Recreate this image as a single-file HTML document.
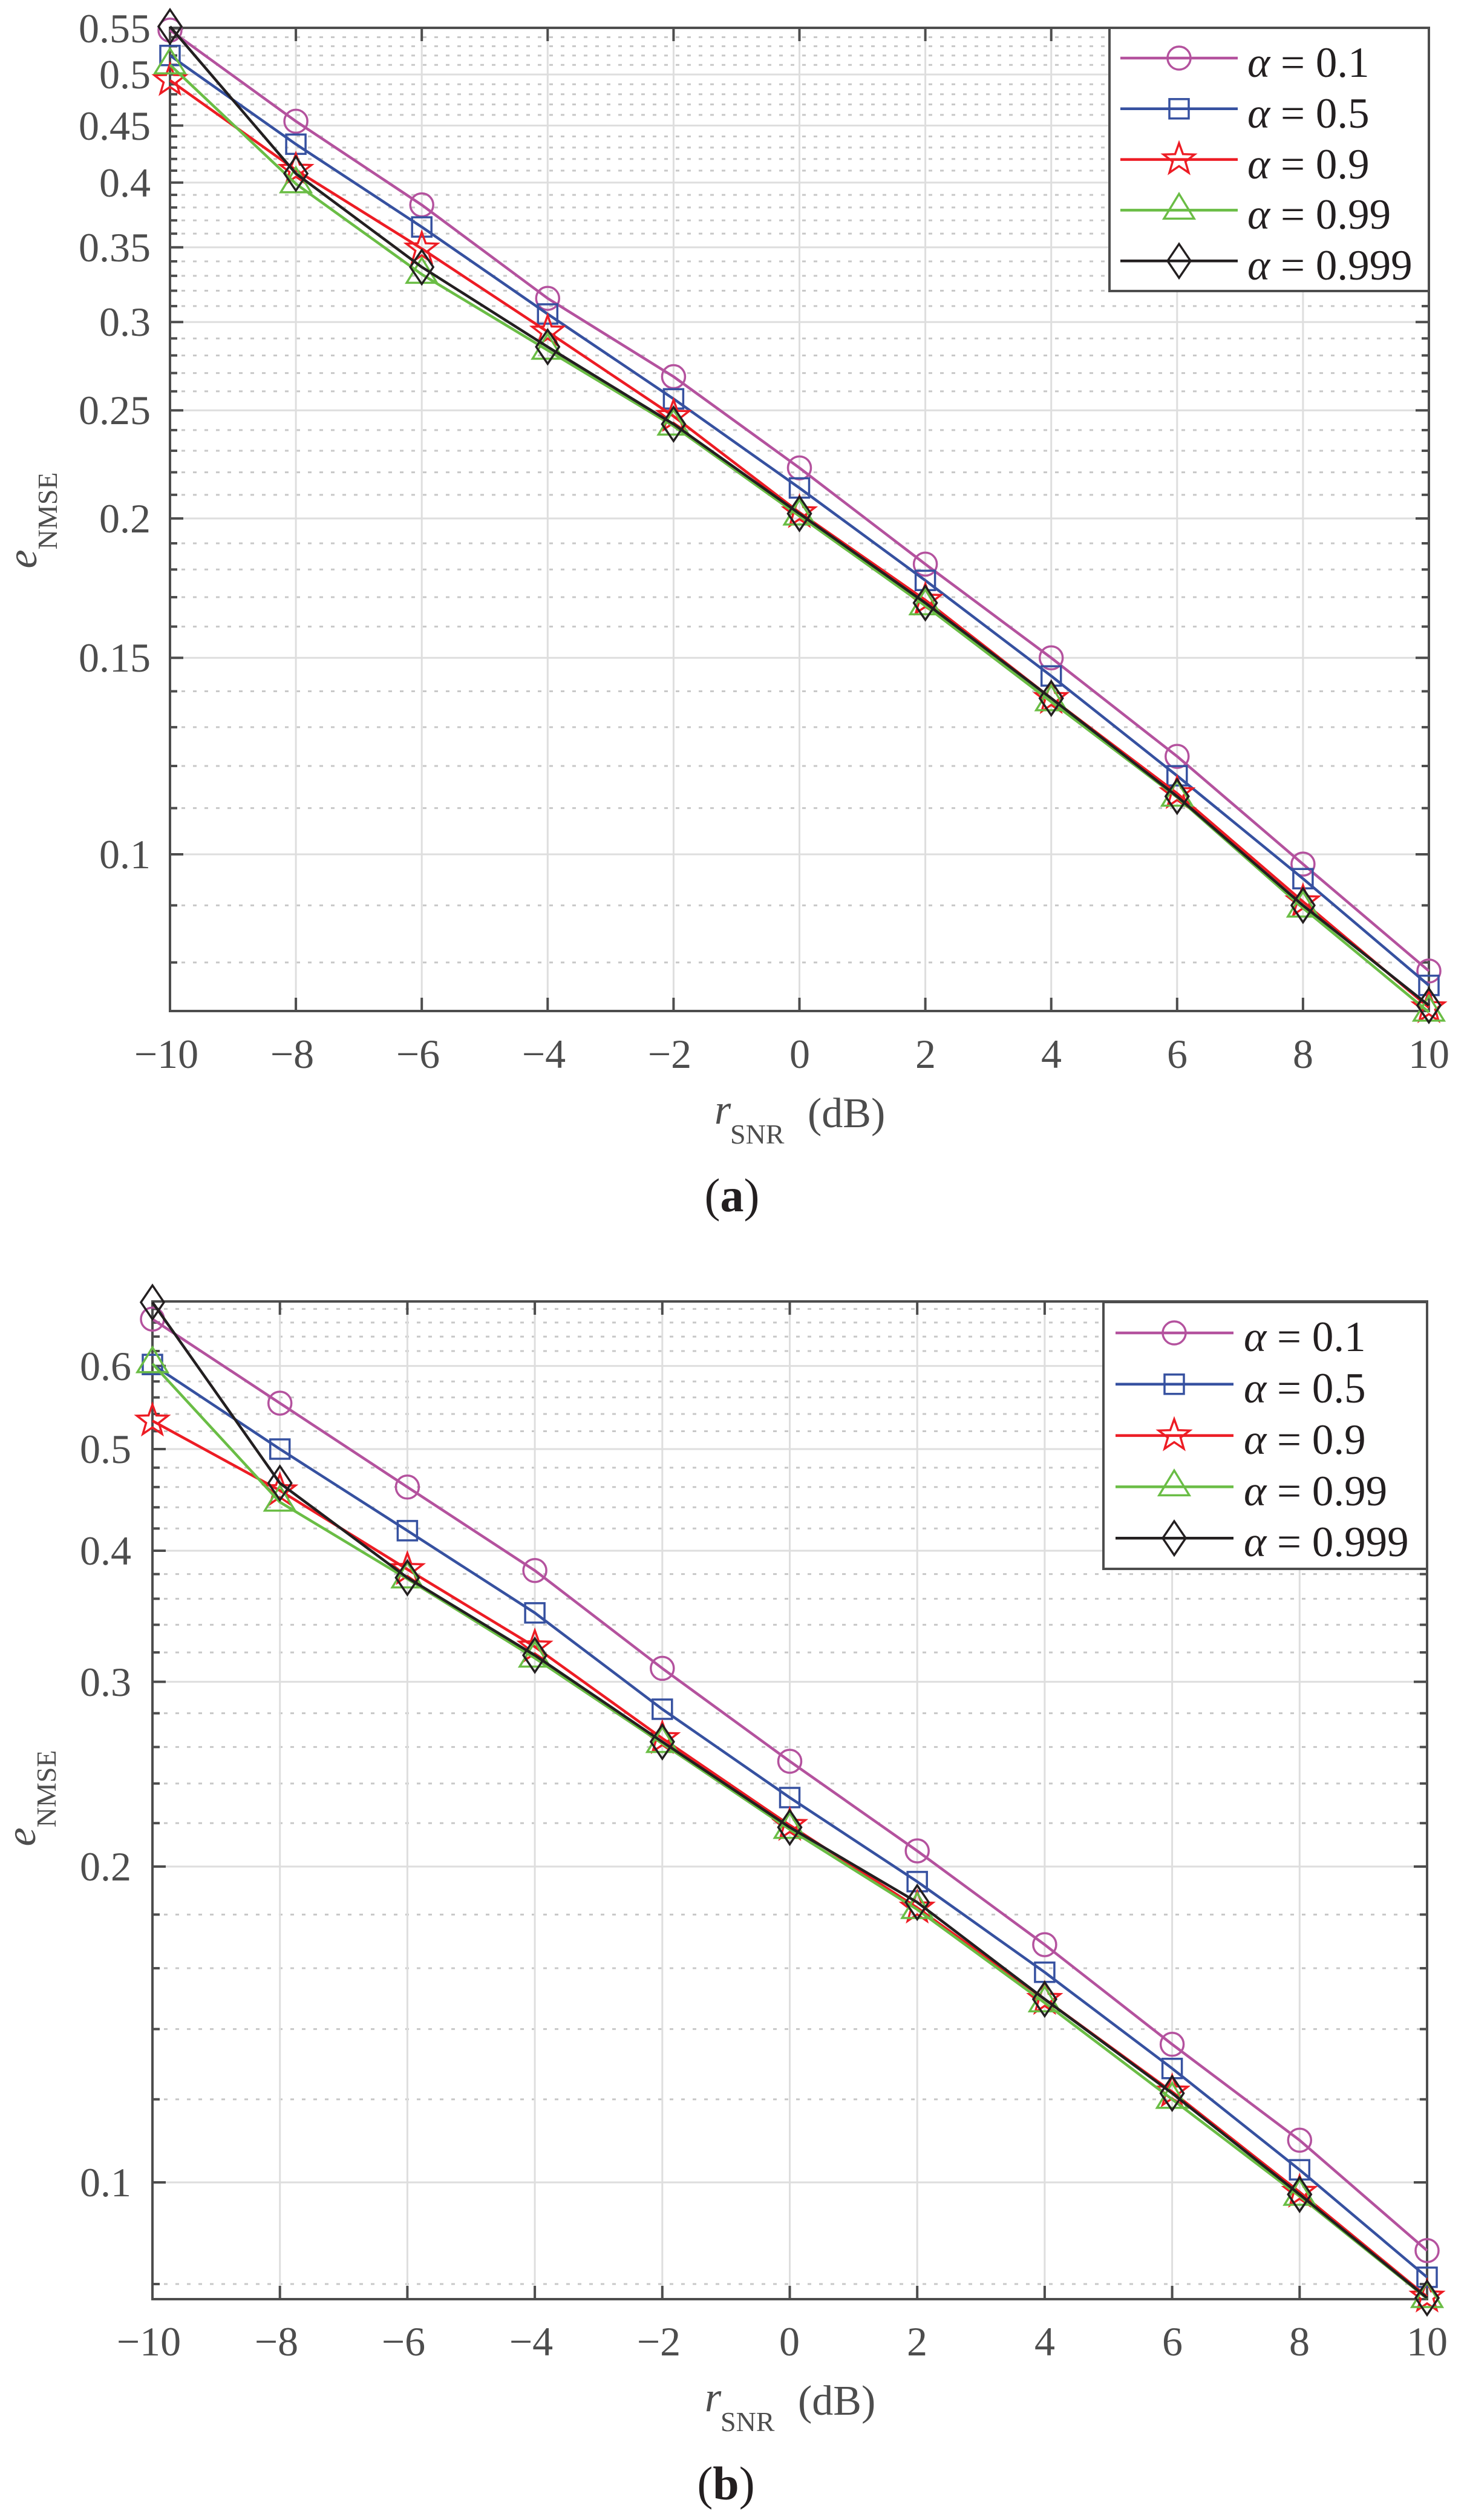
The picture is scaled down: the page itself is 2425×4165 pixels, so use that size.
<!DOCTYPE html>
<html><head><meta charset="utf-8"><style>
html,body{margin:0;padding:0;background:#fff;}
svg{display:block;}
text{font-family:"Liberation Serif",serif;}
.tk{font-size:68px;fill:#4d4d4d;}
.lg{font-size:71px;fill:#231f20;}
</style></head><body>
<svg id="s" xmlns="http://www.w3.org/2000/svg" width="2425" height="4165" viewBox="0 0 2425 4165">
<rect width="2425" height="4165" fill="#fff"/>
<g id="ga"></g>
<g id="gb"></g>
<!-- Plot (a) tick labels -->
<g class="tk" text-anchor="end">
<text x="249" y="1435">0.1</text>
<text x="249" y="1110">0.15</text>
<text x="249" y="880">0.2</text>
<text x="249" y="701">0.25</text>
<text x="249" y="555">0.3</text>
<text x="249" y="432">0.35</text>
<text x="249" y="325">0.4</text>
<text x="249" y="231">0.45</text>
<text x="249" y="146">0.5</text>
<text x="249" y="70">0.55</text>
</g>
<g class="tk" text-anchor="middle">
<text x="275" y="1765">−10</text>
<text x="483" y="1765">−8</text>
<text x="691" y="1765">−6</text>
<text x="899" y="1765">−4</text>
<text x="1107" y="1765">−2</text>
<text x="1322" y="1765">0</text>
<text x="1530" y="1765">2</text>
<text x="1738" y="1765">4</text>
<text x="1946" y="1765">6</text>
<text x="2154" y="1765">8</text>
<text x="2362" y="1765">10</text>
</g>
<text x="1181" y="1857" style="font-size:70px;fill:#4d4d4d;font-style:italic">r</text>
<text x="1207" y="1890" style="font-size:46px;fill:#4d4d4d">SNR</text>
<text x="1335" y="1863" style="font-size:70px;fill:#4d4d4d">(dB)</text>
<text x="1210" y="2002" text-anchor="middle" style="font-size:78px;fill:#231f20">(<tspan font-weight="bold">a</tspan>)</text>
<text transform="translate(60,860) rotate(-90)" text-anchor="middle" style="font-size:70px;fill:#4d4d4d"><tspan font-style="italic">e</tspan><tspan dy="34" style="font-size:46px">NMSE</tspan></text>

<!-- Plot (b) tick labels -->
<g class="tk" text-anchor="end">
<text x="217" y="3630">0.1</text>
<text x="217" y="3108">0.2</text>
<text x="217" y="2803">0.3</text>
<text x="217" y="2586">0.4</text>
<text x="217" y="2418">0.5</text>
<text x="217" y="2281">0.6</text>
</g>
<g class="tk" text-anchor="middle">
<text x="246" y="3893">−10</text>
<text x="457" y="3893">−8</text>
<text x="667" y="3893">−6</text>
<text x="878" y="3893">−4</text>
<text x="1089" y="3893">−2</text>
<text x="1305" y="3893">0</text>
<text x="1516" y="3893">2</text>
<text x="1727" y="3893">4</text>
<text x="1938" y="3893">6</text>
<text x="2148" y="3893">8</text>
<text x="2359" y="3893">10</text>
</g>
<text x="1165" y="3985" style="font-size:70px;fill:#4d4d4d;font-style:italic">r</text>
<text x="1191" y="4018" style="font-size:46px;fill:#4d4d4d">SNR</text>
<text x="1319" y="3991" style="font-size:70px;fill:#4d4d4d">(dB)</text>
<text x="1200" y="4131" text-anchor="middle" style="font-size:78px;fill:#231f20">(<tspan font-weight="bold">b</tspan>)</text>
<text transform="translate(58,2972) rotate(-90)" text-anchor="middle" style="font-size:70px;fill:#4d4d4d"><tspan font-style="italic">e</tspan><tspan dy="34" style="font-size:46px">NMSE</tspan></text>

<!-- legend (a) -->
<g id="la"></g>
<g class="lg">
<text x="2062" y="127"><tspan font-style="italic">α</tspan> = 0.1</text>
<text x="2062" y="211"><tspan font-style="italic">α</tspan> = 0.5</text>
<text x="2062" y="295"><tspan font-style="italic">α</tspan> = 0.9</text>
<text x="2062" y="378"><tspan font-style="italic">α</tspan> = 0.99</text>
<text x="2062" y="462"><tspan font-style="italic">α</tspan> = 0.999</text>
</g>
<!-- legend (b) -->
<g id="lb"></g>
<g class="lg">
<text x="2056" y="2233"><tspan font-style="italic">α</tspan> = 0.1</text>
<text x="2056" y="2318"><tspan font-style="italic">α</tspan> = 0.5</text>
<text x="2056" y="2403"><tspan font-style="italic">α</tspan> = 0.9</text>
<text x="2056" y="2488"><tspan font-style="italic">α</tspan> = 0.99</text>
<text x="2056" y="2572"><tspan font-style="italic">α</tspan> = 0.999</text>
</g>
</svg>
<script>
(function(){
var NS="http://www.w3.org/2000/svg";
function el(p,t,a){var e=document.createElementNS(NS,t);for(var k in a)e.setAttribute(k,a[k]);p.appendChild(e);return e;}
var COL=["#b4529e","#3651a0","#ed1c24","#6abd45","#231f20"];
function marker(g,i,x,y){
  var c=COL[i],sw=3.5;
  if(i==0) el(g,"circle",{cx:x,cy:y,r:19,fill:"none",stroke:c,"stroke-width":sw});
  else if(i==1) el(g,"rect",{x:x-16,y:y-16,width:32,height:32,fill:"none",stroke:c,"stroke-width":sw});
  else if(i==2){var p=[];for(var k=0;k<10;k++){var r=k%2?11:27,a=-Math.PI/2+k*Math.PI/5;p.push((x+r*Math.cos(a)).toFixed(1)+","+(y+r*Math.sin(a)).toFixed(1));}
    el(g,"polygon",{points:p.join(" "),fill:"none",stroke:c,"stroke-width":sw});}
  else if(i==3) el(g,"polygon",{points:(x)+","+(y-27)+" "+(x+25)+","+(y+14)+" "+(x-25)+","+(y+14),fill:"none",stroke:c,"stroke-width":sw});
  else el(g,"polygon",{points:x+","+(y-28)+" "+(x+19)+","+y+" "+x+","+(y+28)+" "+(x-19)+","+y,fill:"none",stroke:c,"stroke-width":sw});
}
function plot(g,o){
  var Y=function(v){return o.y0-o.k*Math.log10(v/0.1);};
  var X=function(v){return o.L+o.dx*(v+10);};
  // minor grid
  o.minor.forEach(function(v){var y=Y(v);
    el(g,"line",{x1:o.L,x2:o.R,y1:y,y2:y,stroke:"#c8c8c8","stroke-width":3,"stroke-dasharray":"6 13"});});
  o.major.forEach(function(v){var y=Y(v);
    el(g,"line",{x1:o.L,x2:o.R,y1:y,y2:y,stroke:"#dedede","stroke-width":3});});
  for(var v=-8;v<=8;v+=2){var x=X(v);el(g,"line",{x1:x,x2:x,y1:o.T,y2:o.B,stroke:"#dedede","stroke-width":3});}
  // axes box and ticks
  var ax="#4d4d4d";
  el(g,"rect",{x:o.L,y:o.T,width:o.R-o.L,height:o.B-o.T,fill:"none",stroke:ax,"stroke-width":4});
  for(var v=-8;v<=8;v+=2){var x=X(v);
    el(g,"line",{x1:x,x2:x,y1:o.B,y2:o.B-22,stroke:ax,"stroke-width":4});
    el(g,"line",{x1:x,x2:x,y1:o.T,y2:o.T+22,stroke:ax,"stroke-width":4});}
  o.major.forEach(function(v){var y=Y(v);
    el(g,"line",{x1:o.L,x2:o.L+22,y1:y,y2:y,stroke:ax,"stroke-width":4});
    el(g,"line",{x1:o.R,x2:o.R-22,y1:y,y2:y,stroke:ax,"stroke-width":4});});
  o.minor.forEach(function(v){var y=Y(v);
    el(g,"line",{x1:o.L,x2:o.L+12,y1:y,y2:y,stroke:ax,"stroke-width":4});
    el(g,"line",{x1:o.R,x2:o.R-12,y1:y,y2:y,stroke:ax,"stroke-width":4});});
  // series
  o.data.forEach(function(d,i){
    var pts=d.map(function(v,j){return X(-10+2*j).toFixed(1)+","+Y(v).toFixed(1);});
    el(g,"polyline",{points:pts.join(" "),fill:"none",stroke:COL[i],"stroke-width":4.5,"stroke-linejoin":"round"});
    d.forEach(function(v,j){marker(g,i,X(-10+2*j),Y(v));});
  });
}
function legend(g,o){
  el(g,"rect",{x:o.x,y:o.y,width:o.w,height:o.h,fill:"#fff",stroke:"#4d4d4d","stroke-width":4});
  for(var i=0;i<5;i++){var y=o.r0+i*o.dr;
    el(g,"line",{x1:o.l1,x2:o.l2,y1:y,y2:y,stroke:COL[i],"stroke-width":4.5});
    marker(g,i,o.m,y);}
}
var ma=[],mb=[],v;
for(v=8;v<=54;v++){ if(v%5!=0) ma.push(v/100); }
plot(document.getElementById("ga"),{L:281,R:2362,T:46,B:1671,dx:104.05,y0:1412,k:1844,
 major:[0.1,0.15,0.2,0.25,0.3,0.35,0.4,0.45,0.5,0.55],minor:ma,
 data:[[0.548,0.454,0.382,0.315,0.268,0.222,0.182,0.150,0.1224,0.098,0.0786],
       [0.520,0.433,0.365,0.305,0.256,0.213,0.176,0.1445,0.1176,0.0951,0.0763],
       [0.494,0.4105,0.349,0.294,0.247,0.2025,0.169,0.138,0.1134,0.0907,0.0729],
       [0.510,0.399,0.331,0.283,0.242,0.201,0.167,0.137,0.1125,0.0895,0.0722],
       [0.552,0.4075,0.336,0.285,0.243,0.202,0.168,0.138,0.1127,0.0900,0.0732]]});
mb=[0.08,0.12,0.14,0.16,0.18,0.22,0.24,0.26,0.28,0.32,0.34,0.36,0.38,0.42,0.44,0.46,0.48,0.52,0.54,0.56,0.58,0.62,0.64,0.66,0.68];
plot(document.getElementById("gb"),{L:252,R:2359,T:2151,B:3800,dx:105.35,y0:3607,k:1734,
 major:[0.1,0.2,0.3,0.4,0.5,0.6],minor:mb,
 data:[[0.665,0.553,0.46,0.383,0.309,0.252,0.207,0.1685,0.1354,0.1097,0.0861],
       [0.602,0.5,0.418,0.349,0.2825,0.2327,0.1935,0.1586,0.1284,0.1028,0.0812],
       [0.532,0.4565,0.384,0.324,0.265,0.219,0.1827,0.1495,0.122,0.0979,0.0778],
       [0.603,0.445,0.376,0.316,0.262,0.217,0.182,0.1483,0.12,0.097,0.0775],
       [0.69,0.464,0.377,0.318,0.263,0.218,0.1849,0.1495,0.1216,0.0974,0.0776]]});
legend(document.getElementById("la"),{x:1834,y:46,w:528,h:435,r0:96,dr:83.8,l1:1852,l2:2046,m:1949});
legend(document.getElementById("lb"),{x:1824,y:2152,w:535,h:441,r0:2203,dr:84.8,l1:1844,l2:2039,m:1941});
})();
</script>
</body></html>
